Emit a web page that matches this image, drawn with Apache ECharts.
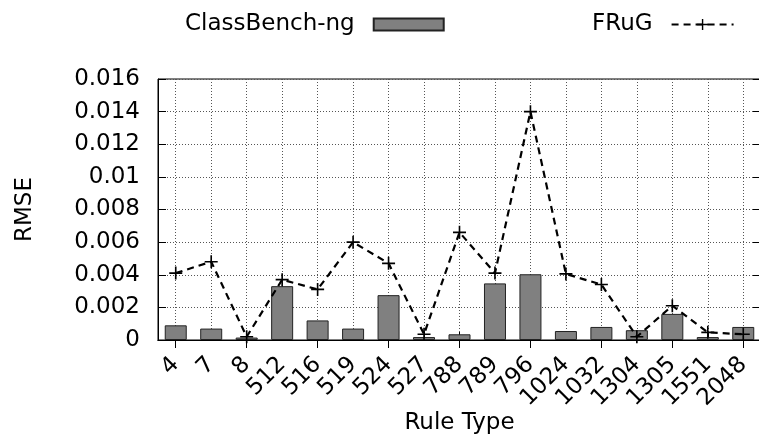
<!DOCTYPE html>
<html>
<head>
<meta charset="utf-8">
<script src="https://cdn.jsdelivr.net/npm/echarts@6/dist/echarts.min.js"></script>
<style>
html,body{margin:0;padding:0;background:#fff;}
#chart{width:759px;height:434px;}
</style>
</head>
<body>
<div id="chart"></div>
<script>
const categories = ['4','7','8','512','516','519','524','527','788','789','796','1024','1032','1304','1305','1551','2048'];
const classbenchValues = [0.0009,0.0007,0.00015,0.0033,0.0012,0.0007,0.00275,0.00018,0.00035,0.00347,0.00403,0.00055,0.0008,0.0006,0.0016,0.00018,0.0008];
const frugValues = [0.0041,0.0048,0.0002,0.0037,0.0031,0.006,0.0047,0.00035,0.0066,0.0041,0.014,0.00405,0.0034,0.0002,0.0021,0.00047,0.00035];
const yMin = 0, yMax = 0.016, yInterval = 0.002;

const FONT = 'DejaVu Sans';
const FS = 23;
const plus = 'path://M8.75,0H11.25V8.75H20V11.25H11.25V20H8.75V11.25H0V8.75H8.75Z';

const chart = echarts.init(document.getElementById('chart'), null, {renderer: 'canvas'});
chart.setOption({
  animation: false,
  backgroundColor: '#fff',
  textStyle: {fontFamily: FONT, color: '#000'},
  legend: [
    {
      data: [{name: 'ClassBench-ng', icon: 'rect'}],
      left: 180, top: 8,
      align: 'right',
      itemWidth: 70, itemHeight: 12,
      textStyle: {fontFamily: FONT, fontSize: FS, color: '#000', padding: [0, 14, 0, 0]},
      selectedMode: false
    },
    {
      data: ['FRuG'],
      left: 587, top: 8,
      align: 'right',
      itemWidth: 62, itemHeight: 14,
      textStyle: {fontFamily: FONT, fontSize: FS, color: '#000', padding: [0, 14, 0, 0]},
      selectedMode: false
    }
  ],
  grid: {left: 158, top: 79, width: 603, height: 261, show: true, borderColor: '#000', borderWidth: 1, containLabel: false, outerBoundsMode: 'none'},
  xAxis: [
    {
      type: 'category',
      data: categories,
      position: 'bottom',
      name: 'Rule Type',
      nameLocation: 'middle',
      nameGap: 72,
      nameMoveOverlap: false,
      nameTextStyle: {fontFamily: FONT, fontSize: FS, color: '#000'},
      axisLine: {show: true, lineStyle: {color: '#000', width: 1}},
      axisTick: {show: true, inside: true, length: 8, alignWithLabel: true, lineStyle: {color: '#000'}},
      axisLabel: {rotate: 45, fontFamily: FONT, fontSize: FS, color: '#000', margin: 21, interval: 0},
      splitLine: {show: true, alignWithLabel: true, lineStyle: {color: '#555', type: [1, 2], width: 1}}
    },
    {
      type: 'category',
      data: categories,
      position: 'top',
      axisLine: {show: true, lineStyle: {color: '#000', width: 1}},
      axisTick: {show: true, inside: true, length: 8, alignWithLabel: true, lineStyle: {color: '#000'}},
      axisLabel: {show: false},
      splitLine: {show: false}
    }
  ],
  yAxis: [
    {
      type: 'value',
      min: yMin, max: yMax, interval: yInterval,
      name: 'RMSE',
      nameLocation: 'middle',
      nameGap: 121,
      nameMoveOverlap: false,
      nameTextStyle: {fontFamily: FONT, fontSize: FS, color: '#000'},
      axisLine: {show: true, lineStyle: {color: '#000', width: 1}},
      axisTick: {show: true, inside: true, length: 8, lineStyle: {color: '#000'}},
      axisLabel: {fontFamily: FONT, fontSize: FS, color: '#000', margin: 18},
      splitLine: {show: true, lineStyle: {color: '#555', type: [1, 2], width: 1}}
    },
    {
      type: 'value',
      min: yMin, max: yMax, interval: yInterval,
      position: 'right',
      axisLine: {show: true, lineStyle: {color: '#000', width: 1}},
      axisTick: {show: true, inside: true, length: 8, lineStyle: {color: '#000'}},
      axisLabel: {show: false},
      splitLine: {show: false}
    }
  ],
  series: [
    {
      name: 'ClassBench-ng',
      type: 'bar',
      data: classbenchValues,
      barWidth: 22,
      itemStyle: {color: '#808080', borderColor: '#222', borderWidth: 1}
    },
    {
      name: 'FRuG',
      type: 'line',
      data: frugValues,
      symbol: plus,
      symbolSize: 13,
      showSymbol: true,
      itemStyle: {color: '#000'},
      lineStyle: {color: '#000', width: 2.2, type: [7, 5]},
      z: 5
    }
  ]
});
</script>
</body>
</html>
